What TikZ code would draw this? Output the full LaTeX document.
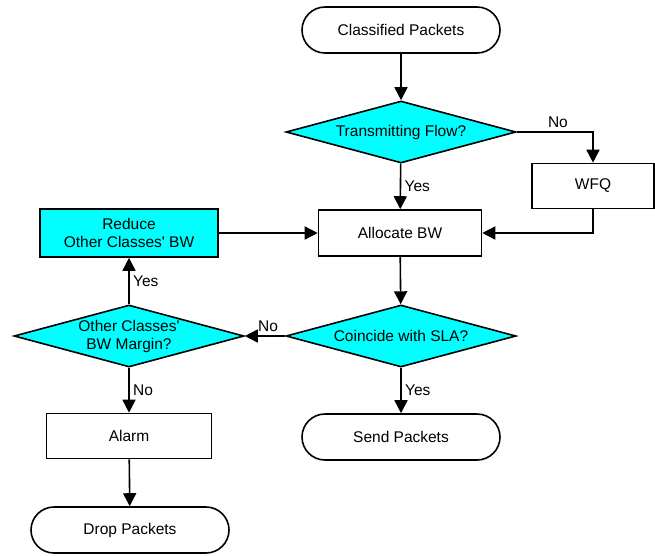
\documentclass[tikz,border=0pt]{standalone}
\usepackage{fontspec}
\setmainfont{Liberation Sans}
\usetikzlibrary{shapes.geometric,arrows.meta}
\definecolor{flowcyan}{RGB}{0,255,255}

\begin{document}
\begin{tikzpicture}[x=1pt,y=-1pt,line width=1.6pt,
  every node/.style={font=\fontsize{15.5}{18}\selectfont},
  box/.style={draw,minimum height=46pt},
  term/.style={draw,rounded corners=23pt,minimum width=198pt,minimum height=46pt},
  decide/.style={draw,diamond,fill=flowcyan,aspect=3.7,inner sep=0pt,minimum width=230pt,minimum height=62pt},
  arr/.style={-{Triangle[length=13pt,width=13pt]}}]
\useasboundingbox (0,0) rectangle (655,555);
% terminals
\node[term] (cls) at (401,30) {Classified Packets};
\node[term] (send) at (401,437) {Send Packets};
\node[term] (drop) at (130,530) {Drop Packets};
% decisions
\node[decide] (trans) at (401,132) {Transmitting Flow?};
\node[decide] (coin) at (401,336) {Coincide with SLA?};
\node[decide,align=center] (other) at (129,336) {Other Classes\textquotesingle\\BW Margin?};
% process boxes
\node[box,minimum width=163pt] (alloc) at (400,233) {Allocate BW};
\node[box,minimum width=122pt,minimum height=45pt] (wfq) at (593,186) {WFQ};
\node[box,fill=flowcyan,align=center,minimum width=178pt,minimum height=48pt] (reduce) at (129,233) {Reduce\\Other Classes\textquotesingle{} BW};
\node[box,minimum width=165pt,minimum height=45pt] (alarm) at (129,436) {Alarm};
% connectors
\draw[arr] (cls) -- (trans);
\draw[arr] (trans.east) -| node[above,pos=0.27] {No} (wfq.north);
\draw[arr] (trans) -- node[right] {Yes} (alloc);
\draw[arr] (wfq.south) |- (alloc.east);
\draw[arr] (reduce) -- (alloc);
\draw[arr] (alloc) -- (coin);
\draw[arr] (coin.west) -- node[above,xshift=3pt] {No} (other.east);
\draw[arr] (other.north) -- node[right] {Yes} (reduce.south);
\draw[arr] (other.south) -- node[right] {No} (alarm.north);
\draw[arr] (alarm) -- (drop);
\draw[arr] (coin.south) -- node[right] {Yes} (send.north);
\end{tikzpicture}
\end{document}
